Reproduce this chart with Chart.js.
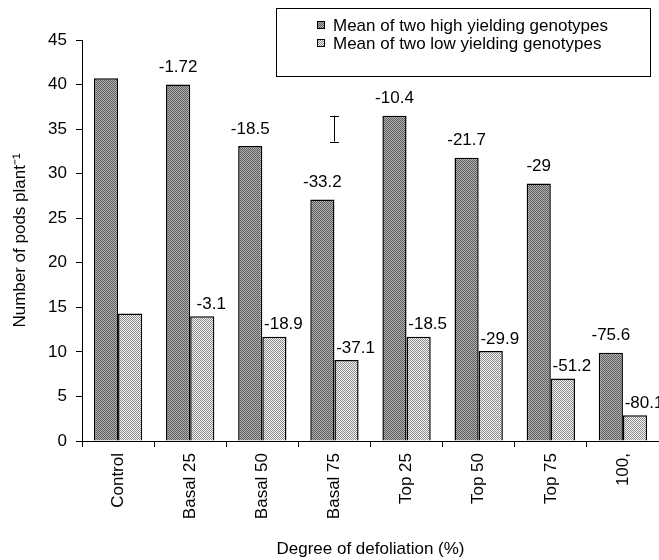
<!DOCTYPE html>
<html><head><meta charset="utf-8">
<script src="https://cdn.jsdelivr.net/npm/chart.js@4"></script>
<style>html,body{margin:0;padding:0;background:#fff;} canvas{display:block;}</style>
</head><body>
<canvas id="c" width="659" height="560"></canvas>
<script>
const categories = ['Control', 'Basal 25', 'Basal 50', 'Basal 75', 'Top 25', 'Top 50', 'Top 75', '100,'];
const highValues = [40.7, 40.0, 33.1, 27.1, 36.5, 31.8, 28.9, 9.9];
const lowValues = [14.3, 14.0, 11.7, 9.1, 11.7, 10.1, 7.0, 2.9];
const highChange = ['', '-1.72', '-18.5', '-33.2', '-10.4', '-21.7', '-29', '-75.6'];
const lowChange = ['', '-3.1', '-18.9', '-37.1', '-18.5', '-29.9', '-51.2', '-80.1'];
const seriesNames = ['Mean of two high yielding genotypes', 'Mean of two low yielding genotypes'];
const lsdCategory = 'Basal 75';
const lsdRange = [33.6, 36.5];
const yMin = 0, yMax = 45, yStep = 5;

const FONT = '"Liberation Sans", Arial, sans-serif';
const FS = 17;
Chart.defaults.font.family = FONT;
Chart.defaults.font.size = FS;
Chart.defaults.color = '#000';

const canvas = document.getElementById('c');
const mainCtx = canvas.getContext('2d');
function makePattern(base, dot) {
  const c = document.createElement('canvas');
  c.width = 2; c.height = 2;
  const x = c.getContext('2d');
  x.fillStyle = base; x.fillRect(0, 0, 2, 2);
  x.fillStyle = dot; x.fillRect(0, 0, 1, 1); x.fillRect(1, 1, 1, 1);
  return mainCtx.createPattern(c, 'repeat');
}
const highFill = makePattern('#b0b0b0', '#5e5e5e');
const lowFill = makePattern('#f6f6f6', '#8a8a8a');

const annotatePlugin = {
  id: 'annotate',
  afterDatasetsDraw(chart) {
    const ctx = chart.ctx;
    ctx.save();
    ctx.font = FS + 'px ' + FONT;
    ctx.fillStyle = '#000';
    ctx.textAlign = 'center';
    ctx.textBaseline = 'middle';
    const sets = [{ texts: highChange, dx: 0, dy: -17 }, { texts: lowChange, dx: 9, dy: -12 }];
    sets.forEach((s, di) => {
      chart.getDatasetMeta(di).data.forEach((bar, i) => {
        const t = s.texts[i];
        if (!t) return;
        ctx.fillText(t, bar.x + s.dx, bar.y + s.dy);
      });
    });
    // LSD bar
    const xs = chart.scales.x, ys = chart.scales.y;
    const cx = Math.round(xs.getPixelForValue(categories.indexOf(lsdCategory))) + 0.5;
    const y1 = ys.getPixelForValue(lsdRange[0]), y2 = ys.getPixelForValue(lsdRange[1]);
    ctx.strokeStyle = '#000';
    ctx.lineWidth = 1;
    ctx.beginPath();
    ctx.moveTo(cx, y1); ctx.lineTo(cx, y2);
    ctx.moveTo(cx - 4.5, Math.round(y1) + 0.5); ctx.lineTo(cx + 4.5, Math.round(y1) + 0.5);
    ctx.moveTo(cx - 4.5, Math.round(y2) + 0.5); ctx.lineTo(cx + 4.5, Math.round(y2) + 0.5);
    ctx.stroke();
    ctx.restore();
  },
  afterDraw(chart) {
    const ctx = chart.ctx;
    ctx.save();
    ctx.fillStyle = '#fff';
    ctx.fillRect(276.5, 8.5, 374, 68);
    ctx.strokeStyle = '#000';
    ctx.lineWidth = 1;
    ctx.strokeRect(276.5, 8.5, 374, 68);
    ctx.font = FS + 'px ' + FONT;
    ctx.textAlign = 'left';
    ctx.textBaseline = 'middle';
    chart.data.datasets.forEach((ds, i) => {
      const yc = 25 + i * 18;
      ctx.fillStyle = ds.backgroundColor;
      ctx.fillRect(317, yc - 4, 8, 8);
      ctx.strokeStyle = '#000';
      ctx.strokeRect(317.5, yc - 3.5, 7, 7);
      ctx.fillStyle = '#000';
      ctx.fillText(ds.label, 333, yc + 1);
    });
    ctx.restore();
  }
};

new Chart(canvas, {
  type: 'bar',
  data: {
    labels: categories,
    datasets: [
      { label: seriesNames[0], data: highValues, backgroundColor: highFill, borderColor: '#000', borderWidth: 1.5, categoryPercentage: 0.67, barPercentage: 1.0 },
      { label: seriesNames[1], data: lowValues, backgroundColor: lowFill, borderColor: '#000', borderWidth: 1.5, categoryPercentage: 0.67, barPercentage: 1.0 }
    ]
  },
  options: {
    responsive: false,
    animation: false,
    devicePixelRatio: 1,
    layout: { padding: { top: 40, right: 0, left: 0, bottom: 0 } },
    plugins: { legend: { display: false }, tooltip: { enabled: false } },
    scales: {
      x: {
        grid: { drawOnChartArea: false, drawTicks: true, tickLength: 6, color: '#000', offset: true },
        border: { color: '#000', width: 1 },
        ticks: { maxRotation: 90, minRotation: 90, padding: 6, font: { size: FS }, color: '#000', autoSkip: false },
        title: { display: true, text: 'Degree of defoliation (%)', font: { size: FS }, color: '#000', padding: { top: 0, bottom: 0 } },
        afterFit(scale) { scale.height = 119; }
      },
      y: {
        min: yMin, max: yMax,
        grid: { drawOnChartArea: false, drawTicks: true, tickLength: 6, color: '#000' },
        border: { color: '#000', width: 1 },
        ticks: { stepSize: yStep, padding: 9, font: { size: FS }, color: '#000' },
        title: { display: true, text: 'Number of pods plant⁻¹', font: { size: FS }, color: '#000', padding: { top: 10, bottom: 0 } },
        afterFit(scale) { scale.width = 82; }
      }
    }
  },
  plugins: [annotatePlugin]
});
</script>
</body></html>
